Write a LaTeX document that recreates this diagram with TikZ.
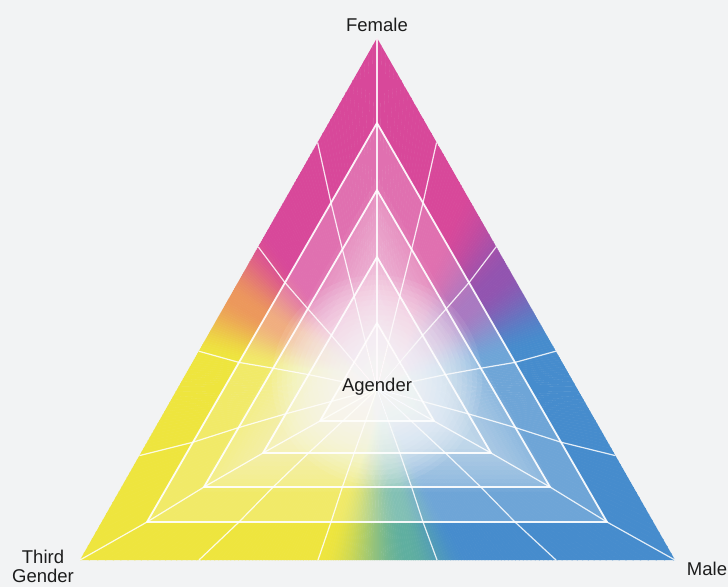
\documentclass[tikz,border=0pt]{standalone}
\usepackage{fontspec}
\setmainfont{Liberation Sans}
\usetikzlibrary{calc}
\definecolor{bgc}{RGB}{242,243,244}
\definecolor{txt}{RGB}{28,28,28}
\definecolor{cB}{RGB}{70,140,205}
\definecolor{cP}{RGB}{146,84,176}
\definecolor{cK}{RGB}{216,72,154}
\definecolor{cO}{RGB}{236,152,92}
\definecolor{cY}{RGB}{238,229,62}
\definecolor{cT}{RGB}{95,175,160}
\tikzset{
  ringline/.style={white, line width=1.8pt, opacity=0.92, line join=round},
  rayline/.style={white, line width=1.2pt, opacity=0.85, line join=round},
  lbl/.style={text=txt, font=\fontsize{18.5}{19}\selectfont, inner sep=0pt},
  wedge/.style={fill=mc, draw=mc, line width=0.4pt},
}
\newcommand{\interp}[4]{%
  \pgfmathsetmacro\ff{(\th-#1)/(#2-#1)}%
  \pgfmathsetmacro\pct{100*\ff*\ff*(3-2*\ff)}%
  \colorlet{mc}{#4!\pct!#3}}
\newcommand{\angcol}[1]{%
  \pgfmathsetmacro\th{#1}%
  \pgfmathsetmacro\th{\th<15 ? \th+360 : \th}%
  \ifdim\th pt<42pt \interp{15}{42}{cB}{cP}\else
  \ifdim\th pt<67pt \interp{42}{67}{cP}{cK}\else
  \ifdim\th pt<125pt \colorlet{mc}{cK}\else
  \ifdim\th pt<148pt \interp{125}{148}{cK}{cO}\else
  \ifdim\th pt<169pt \interp{148}{169}{cO}{cY}\else
  \ifdim\th pt<252pt \colorlet{mc}{cY}\else
  \ifdim\th pt<281pt \interp{252}{281}{cY}{cT}\else
  \ifdim\th pt<298pt \interp{281}{298}{cT}{cB}\else
  \colorlet{mc}{cB}\fi\fi\fi\fi\fi\fi\fi\fi
}
\begin{document}
\begin{tikzpicture}[x=1pt,y=-1pt]
\useasboundingbox (0,0) rectangle (728,587);
\fill[bgc] (0,0) rectangle (728,587);
% triangle vertices
\coordinate (A0) at (377,38);  \coordinate (L0) at (80,560);  \coordinate (R0) at (675,560);
\coordinate (A1) at (377,123); \coordinate (L1) at (147,522); \coordinate (R1) at (607,522);
\coordinate (A2) at (377,190); \coordinate (L2) at (204,487); \coordinate (R2) at (550,487);
\coordinate (A3) at (377,257); \coordinate (L3) at (263,453); \coordinate (R3) at (491,453);
\coordinate (A4) at (377,323); \coordinate (L4) at (320,421); \coordinate (R4) at (434,421);
\coordinate (C) at (377,389);
\coordinate (G) at (377,380);
% angular colour wedges
\begin{scope}
\clip (A0) -- (L0) -- (R0) -- cycle;
\foreach \a in {0,...,479}{
  \angcol{0.75*\a+0.375}
  \filldraw[wedge] (C) -- ($(C)+({-0.75*\a}:460)$) -- ($(C)+({-0.75*\a-0.75}:460)$) -- cycle;
}
% smooth whitening towards the centre
\foreach \k in {1,...,24}{
  \pgfmathsetmacro\sc{0.6*\k/24}
  \fill[white, opacity=0.04] ($(C)!\sc!(A0)$) -- ($(C)!\sc!(L0)$) -- ($(C)!\sc!(R0)$) -- cycle;
}
\end{scope}
% ring whitening
\fill[white, opacity=0.22] (A1) -- (L1) -- (R1) -- cycle;
\fill[white, opacity=0.18] (A2) -- (L2) -- (R2) -- cycle;
\fill[white, opacity=0.18] (A3) -- (L3) -- (R3) -- cycle;
\fill[white, opacity=0.22] (A4) -- (L4) -- (R4) -- cycle;
% rays
\foreach \s/\e in {A/L, L/R, R/A}{
  \foreach \t in {0.2,0.4,0.6,0.8}{
    \draw[rayline] ($(\s0)!\t!(\e0)$) -- ($(\s1)!\t!(\e1)$) -- ($(\s2)!\t!(\e2)$) -- ($(\s3)!\t!(\e3)$) -- ($(\s4)!\t!(\e4)$) -- (C);
  }
}
\foreach \v in {A,L,R}{
  \draw[rayline] (\v0) -- (\v1) -- (\v2) -- (\v3) -- (\v4) -- (C);
}
% rings
\foreach \k in {1,...,4}{
  \draw[ringline] (A\k) -- (L\k) -- (R\k) -- cycle;
}
% central glow
\foreach \k in {0,...,19}{
  \fill[white, opacity=0.08] (G) circle ({105-5*\k});
}
% labels
\node[lbl] (female) at (377,25) {Female};
\node[lbl] (agender) at (377,387) {Agender};
\node[lbl, align=center] (third) at (43,566) {Third\\Gender};
\node[lbl] (male) at (707,569) {Male};
\end{tikzpicture}
\end{document}
